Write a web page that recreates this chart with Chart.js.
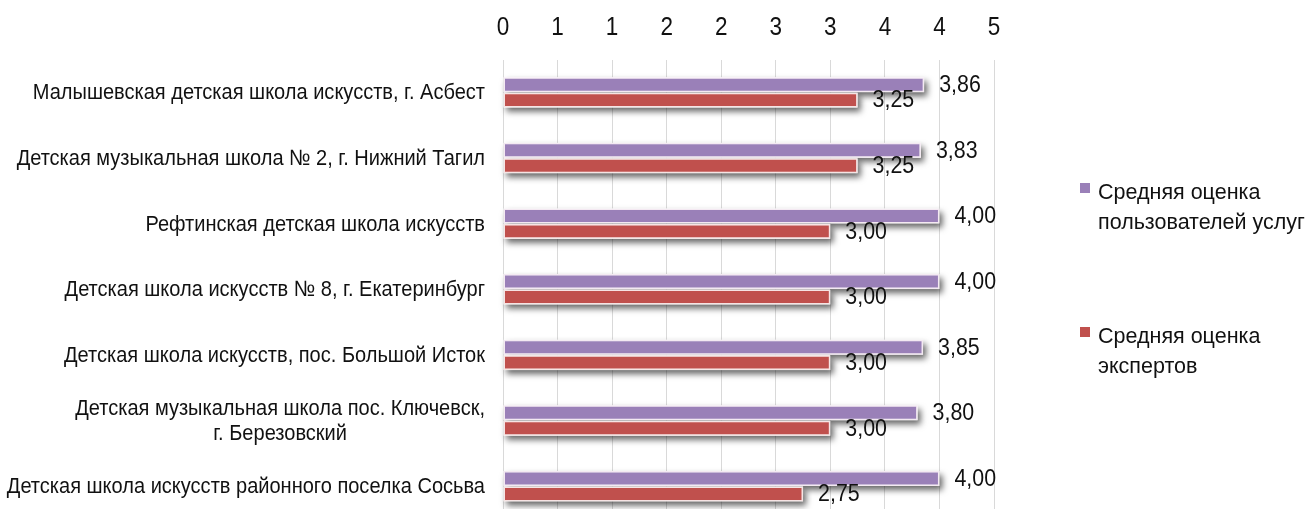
<!DOCTYPE html>
<html>
<head>
<meta charset="utf-8">
<script src="https://cdn.jsdelivr.net/npm/chart.js@4.4.1/dist/chart.umd.min.js"></script>
<style>
  html, body { margin:0; padding:0; background:#fff; overflow:hidden; width:1314px; height:509px; }
  #wrap { position:absolute; left:0; top:0; width:1314px; height:520px; }
  .leg { position:absolute; left:1098px; font-family:'Liberation Sans',Arial,sans-serif; font-size:21.5px; line-height:30px; color:#111; white-space:nowrap; }
  .sw { position:absolute; left:1080px; width:10px; height:10px; }
</style>
</head>
<body>
<div id="wrap"><canvas id="c"></canvas></div>
<div id="legend"></div>
<script>
const FONT = "'Liberation Sans',Arial,sans-serif";

const categories = [
  'Малышевская детская школа искусств, г. Асбест',
  'Детская музыкальная школа № 2, г. Нижний Тагил',
  'Рефтинская детская школа искусств',
  'Детская школа искусств № 8, г. Екатеринбург',
  'Детская школа искусств, пос. Большой Исток',
  ['Детская музыкальная школа пос. Ключевск,', 'г. Березовский'],
  'Детская школа искусств районного поселка Сосьва'
];
const seriesNames = [
  ['Средняя оценка', 'пользователей услуг'],
  ['Средняя оценка', 'экспертов']
];
const usersValues  = [3.86, 3.83, 4.00, 4.00, 3.85, 3.80, 4.00];
const expertValues = [3.25, 3.25, 3.00, 3.00, 3.00, 3.00, 2.75];
const tickLabels = ['0', '1', '1', '2', '2', '3', '3', '4', '4', '5'];
const colors = ['#9A80B8', '#C0504D'];

// HTML legend
const legendTops = [177, 321];
const legendEl = document.getElementById('legend');
seriesNames.forEach((name, i) => {
  const sw = document.createElement('div');
  sw.className = 'sw';
  sw.style.top = (legendTops[i] + 6) + 'px';
  sw.style.background = colors[i];
  legendEl.appendChild(sw);
  const t = document.createElement('div');
  t.className = 'leg';
  t.style.top = legendTops[i] + 'px';
  t.innerHTML = name.join('<br>');
  legendEl.appendChild(t);
});

function drawText(ctx, s, x, y, align, sx) {
  ctx.save();
  ctx.translate(x, y);
  ctx.scale(sx, 1);
  ctx.textAlign = align;
  ctx.fillText(s, 0, 0);
  ctx.restore();
}

const fx = {
  id: 'fx',
  beforeDatasetsDraw(chart) {
    const ctx = chart.ctx;
    ctx.save();
    ctx.shadowColor = 'rgba(0,0,0,0.6)';
    ctx.shadowOffsetX = 3;
    ctx.shadowOffsetY = 4;
    ctx.shadowBlur = 6;
    ctx.fillStyle = '#ffffff';
    chart.data.datasets.forEach((ds, di) => {
      chart.getDatasetMeta(di).data.forEach(el => {
        const p = el.getProps(['x', 'y', 'base', 'height'], true);
        const l = Math.min(p.x, p.base), r = Math.max(p.x, p.base);
        ctx.fillRect(l, p.y - p.height / 2, r - l, p.height);
      });
    });
    ctx.restore();
  },
  afterDatasetsDraw(chart) {
    const ctx = chart.ctx;
    ctx.save();
    ctx.font = '23px ' + FONT;
    ctx.fillStyle = '#111';
    ctx.textBaseline = 'middle';
    chart.data.datasets.forEach((ds, di) => {
      chart.getDatasetMeta(di).data.forEach((el, i) => {
        const p = el.getProps(['x', 'y'], true);
        const txt = ds.data[i].toFixed(2).replace('.', ',');
        drawText(ctx, txt, p.x + 15, p.y + 1, 'left', 0.93);
      });
    });
    ctx.restore();
  },
  afterDraw(chart) {
    const ctx = chart.ctx;
    const ys = chart.scales.y;
    const xs = chart.scales.x;
    ctx.save();
    ctx.fillStyle = '#111';
    ctx.textBaseline = 'middle';
    // category labels
    ctx.font = '22px ' + FONT;
    const sx = 0.91;
    const right = chart.chartArea.left - 18;
    categories.forEach((lab, i) => {
      const y = ys.getPixelForValue(i);
      const lines = Array.isArray(lab) ? lab : [lab];
      const maxW = Math.max(...lines.map(s => ctx.measureText(s).width)) * sx;
      const cx = right - maxW / 2;
      lines.forEach((s, j) => drawText(ctx, s, cx, y + 1 + (j - (lines.length - 1) / 2) * 25, 'center', sx));
    });
    // x tick labels
    ctx.font = '25px ' + FONT;
    xs.ticks.forEach((t, i) => {
      drawText(ctx, tickLabels[i], xs.getPixelForValue(t.value), 28, 'center', 0.9);
    });
    ctx.restore();
  }
};

new Chart(document.getElementById('c'), {
  type: 'bar',
  data: {
    labels: categories,
    datasets: [
      { label: seriesNames[0].join(' '), data: usersValues, backgroundColor: colors[0],
        borderColor: '#F4E9F2', borderWidth: 1.5, borderSkipped: false,
        categoryPercentage: 0.47, barPercentage: 0.97 },
      { label: seriesNames[1].join(' '), data: expertValues, backgroundColor: colors[1],
        borderColor: '#F6E4E4', borderWidth: 1.5, borderSkipped: false,
        categoryPercentage: 0.47, barPercentage: 0.97 }
    ]
  },
  options: {
    indexAxis: 'y',
    responsive: true,
    maintainAspectRatio: false,
    animation: false,
    layout: { padding: { left: 503, right: 320, top: 30, bottom: 1 } },
    plugins: { legend: { display: false }, tooltip: { enabled: false } },
    scales: {
      x: {
        position: 'top',
        min: 0, max: 4.5,
        ticks: {
          stepSize: 0.5,
          padding: 1,
          color: 'rgba(0,0,0,0)',
          font: { family: FONT, size: 23 },
          callback: (v, i) => tickLabels[i]
        },
        grid: { color: '#D9D9D9', lineWidth: 1, drawTicks: false },
        border: { display: false }
      },
      y: {
        display: false
      }
    }
  },
  plugins: [fx]
});
</script>
</body>
</html>
